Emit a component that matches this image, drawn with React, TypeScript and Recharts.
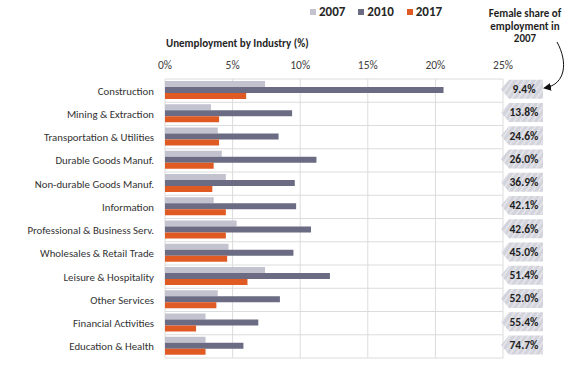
import { Bar, BarChart, CartesianGrid, XAxis, YAxis } from "recharts"

const industries = [
  "Construction",
  "Mining & Extraction",
  "Transportation & Utilities",
  "Durable Goods Manuf.",
  "Non-durable Goods Manuf.",
  "Information",
  "Professional & Business Serv.",
  "Wholesales & Retail Trade",
  "Leisure & Hospitality",
  "Other Services",
  "Financial Activities",
  "Education & Health",
]

const rate2007 = [7.4, 3.4, 3.9, 4.2, 4.5, 3.6, 5.3, 4.7, 7.4, 3.9, 3.0, 3.0]
const rate2010 = [20.6, 9.4, 8.4, 11.2, 9.6, 9.7, 10.8, 9.5, 12.2, 8.5, 6.9, 5.8]
const rate2017 = [6.0, 4.0, 4.0, 3.6, 3.5, 4.5, 4.5, 4.6, 6.1, 3.8, 2.3, 3.0]
const femaleShare = ["9.4%", "13.8%", "24.6%", "26.0%", "36.9%", "42.1%", "42.6%", "45.0%", "51.4%", "52.0%", "55.4%", "74.7%"]
const xTicks = [0, 5, 10, 15, 20, 25]

const data = industries.map((industry, i) => ({
  industry,
  y2007: rate2007[i],
  y2010: rate2010[i],
  y2017: rate2017[i],
}))

const series = [
  { key: "y2007", name: "2007", color: "#c3c2cf" },
  { key: "y2010", name: "2010", color: "#6b6b84" },
  { key: "y2017", name: "2017", color: "#e05a24" },
]

const font = "Calibri, Carlito, 'Open Sans', sans-serif"

function IndustryTick(props: any) {
  const { x, y, payload } = props
  return (
    <text x={x} y={y + 4} textAnchor="end" fontFamily={font} fontSize={10.8} fill="#333">
      {payload.value}
    </text>
  )
}

function ShareTick(props: any) {
  const { x, y, payload } = props
  const label = femaleShare[payload.index] ?? ""
  const top = y - 11
  const h = 19
  const left = x - 10
  const path = `M${left},${top + h / 2} L${left + 8},${top} L${left + 42},${top} L${left + 42},${top + h} L${left + 8},${top + h} Z`
  return (
    <g>
      <path d={path} fill="url(#hatch)" />
      <text
        x={left + 23}
        y={top + h / 2 + 4}
        textAnchor="middle"
        fontFamily={font}
        fontWeight="bold"
        fontSize={11.5}
        fill="#1f1f1f"
      >
        {label}
      </text>
    </g>
  )
}

export default function App() {
  return (
    <div style={{ position: "absolute", left: 0, top: 0, width: 576, height: 370, background: "#fff" }}>
      <BarChart
        width={576}
        height={370}
        data={data}
        layout="vertical"
        margin={{ top: 49, right: 0, bottom: 12, left: 0 }}
        barCategoryGap={2}
        barGap={0}
      >
        <defs>
          <pattern id="hatch" width="5" height="5" patternUnits="userSpaceOnUse" patternTransform="rotate(35)">
            <rect width="5" height="5" fill="#d3d3dc" />
            <rect width="1.6" height="5" fill="#e6e6ec" />
          </pattern>
        </defs>
        <CartesianGrid
          stroke="#dcdcdc"
          horizontalCoordinatesGenerator={({ offset }: any) =>
            industries.map((_, i) => offset.top + (i * offset.height) / industries.length).concat(offset.top + offset.height)
          }
        />
        <XAxis
          type="number"
          orientation="top"
          domain={[0, 25]}
          ticks={xTicks}
          tickFormatter={(v) => `${v}%`}
          tickLine={false}
          axisLine={false}
          height={30}
          tick={{ fontFamily: font, fontSize: 11.5, fill: "#404040" }}
          tickMargin={4}
        />
        <YAxis
          yAxisId="left"
          type="category"
          dataKey="industry"
          width={165}
          tickLine={false}
          axisLine={false}
          tickMargin={5}
          tick={<IndustryTick />}
          interval={0}
        />
        <YAxis
          yAxisId="right"
          type="category"
          dataKey="industry"
          orientation="right"
          width={73}
          tickLine={false}
          axisLine={false}
          tick={<ShareTick />}
          interval={0}
        />
        {series.map((s) => (
          <Bar key={s.key} yAxisId="left" dataKey={s.key} name={s.name} fill={s.color} isAnimationActive={false} />
        ))}
      </BarChart>
      <div
        style={{
          position: "absolute",
          left: 310,
          top: 4,
          display: "flex",
          gap: 13,
          fontFamily: font,
          fontWeight: "bold",
          fontSize: 13,
          color: "#262626",
          lineHeight: "16px",
        }}
      >
        {series.map((s) => (
          <div key={s.key} style={{ display: "flex", alignItems: "center" }}>
            <span style={{ width: 6, height: 6, background: s.color, display: "inline-block", marginRight: 3 }} />
            {s.name}
          </div>
        ))}
      </div>
      <svg width={576} height={370} style={{ position: "absolute", left: 0, top: 0, pointerEvents: "none" }}>
        <text x={166} y={47} fontFamily={font} fontWeight="bold" fontSize={11} fill="#262626">
          Unemployment by Industry (%)
        </text>
        <text x={525} textAnchor="middle" fontFamily={font} fontWeight="bold" fontSize={11} fill="#1f1f1f">
          <tspan x={525} y={17}>Female share of</tspan>
          <tspan x={525} y={30}>employment in</tspan>
          <tspan x={525} y={42}>2007</tspan>
        </text>
        <defs>
          <marker id="arrowhead" markerWidth="8" markerHeight="8" refX="6" refY="4" orient="auto">
            <path d="M0,0 L8,4 L0,8 Z" fill="#111" />
          </marker>
        </defs>
        <path d="M557,42 C568,62 566,84 545,88" fill="none" stroke="#111" strokeWidth={1} markerEnd="url(#arrowhead)" />
      </svg>
    </div>
  )
}
